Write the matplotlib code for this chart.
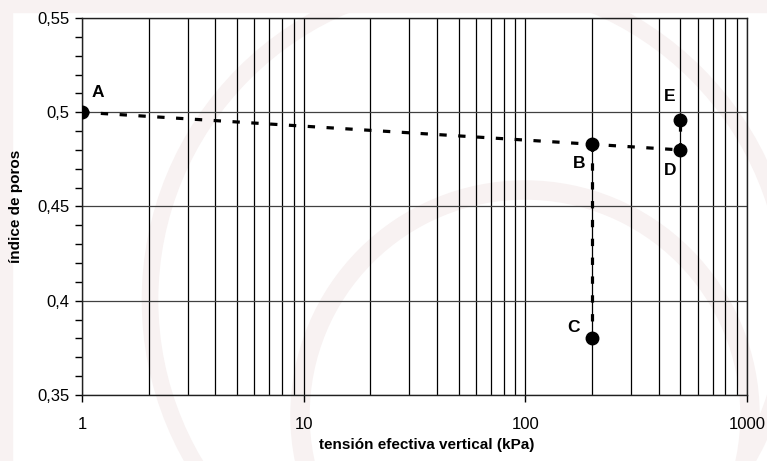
import matplotlib
matplotlib.use('Agg')
import matplotlib.pyplot as plt
from matplotlib.patches import Ellipse, Rectangle
from matplotlib.ticker import FixedLocator, MultipleLocator, FuncFormatter, NullFormatter
plt.rcParams['font.family'] = 'sans-serif'
plt.rcParams['font.sans-serif'] = ['Liberation Sans', 'DejaVu Sans']

# puntos del ensayo
labels = ['A', 'B', 'C', 'D', 'E']
sigma = [1, 200, 200, 500, 500]
e = [0.500, 0.483, 0.380, 0.480, 0.496]

# tramos (indices de puntos)
paths = [[0, 1, 3], [1, 2], [3, 4]]

x_major = [1, 10, 100, 1000]
y_major = [0.35, 0.4, 0.45, 0.5, 0.55]

W, H = 767, 461
fig = plt.figure(figsize=(W / 100, H / 100), dpi=100)

# marca de agua (logo tenue de fondo)
wm = '#f8f2f2'
fig.patches.append(Ellipse((525 / W, 1 - 415 / H), 450 / W, 450 / H, fill=False,
                           edgecolor=wm, linewidth=14, transform=fig.transFigure, zorder=0))
fig.patches.append(Ellipse((470 / W, 1 - 300 / H), 640 / W, 640 / H, fill=False,
                           edgecolor=wm, linewidth=12, transform=fig.transFigure, zorder=0))
fig.patches.append(Rectangle((0, 1 - 12 / H), 1, 12 / H, color=wm,
                             transform=fig.transFigure, zorder=0))
fig.patches.append(Rectangle((0, 0), 12 / W, 1, color=wm,
                             transform=fig.transFigure, zorder=0))

ax = fig.add_axes([0.1069, 0.1432, 0.8670, 0.8178])
ax.set_facecolor('none')
ax.set_zorder(2)

ax.set_xscale('log')
ax.set_xlim(1, 1000)
ax.set_ylim(0.35, 0.55)

# grid: vertical on every log line, horizontal every 0.05
for dec in [1, 10, 100]:
    for m in range(1, 10):
        ax.axvline(dec * m, color='black', linewidth=0.9, zorder=1)
ax.axvline(1000, color='black', linewidth=0.9, zorder=1)
for yv in y_major:
    ax.axhline(yv, color='#404040', linewidth=0.9, zorder=1)

for p in paths:
    ax.plot([sigma[i] for i in p], [e[i] for i in p], color='black', linewidth=2.3,
            linestyle=(0, (2.3, 3.6)), zorder=3)
ax.plot(sigma, e, 'o', color='black', markersize=9, zorder=4)

offsets = {'A': (7, 14), 'B': (-14, -14), 'C': (-18, 8), 'D': (-12, -15), 'E': (-12, 17)}
for lab, xv, yv in zip(labels, sigma, e):
    ax.annotate(lab, (xv, yv), xytext=offsets[lab], textcoords='offset points',
                ha='left', va='center', fontsize=12.5, fontweight='bold')

ax.xaxis.set_major_locator(FixedLocator(x_major))
ax.xaxis.set_minor_locator(FixedLocator([]))
ax.xaxis.set_major_formatter(FuncFormatter(lambda v, p: '%d' % v))
ax.yaxis.set_major_locator(FixedLocator(y_major))
ax.yaxis.set_minor_locator(MultipleLocator(0.01))
ax.yaxis.set_major_formatter(FuncFormatter(lambda v, p: ('%g' % round(v, 2)).replace('.', ',')))
ax.yaxis.set_minor_formatter(NullFormatter())

ax.tick_params(axis='both', which='major', direction='out', length=5, width=1, labelsize=12, pad=11)
ax.tick_params(axis='y', which='minor', direction='out', length=5, width=1)
ax.tick_params(axis='y', which='major', pad=4)

for s in ax.spines.values():
    s.set_linewidth(1)
    s.set_color('#202020')

ax.set_xlabel('tensión efectiva vertical (kPa)', fontsize=11, fontweight='bold')
ax.set_ylabel('índice de poros', fontsize=11, fontweight='bold')
ax.xaxis.set_label_coords(0.519, -0.115)
ax.yaxis.set_label_coords(-0.088, 0.5)

fig.savefig('out.png', dpi=100)
